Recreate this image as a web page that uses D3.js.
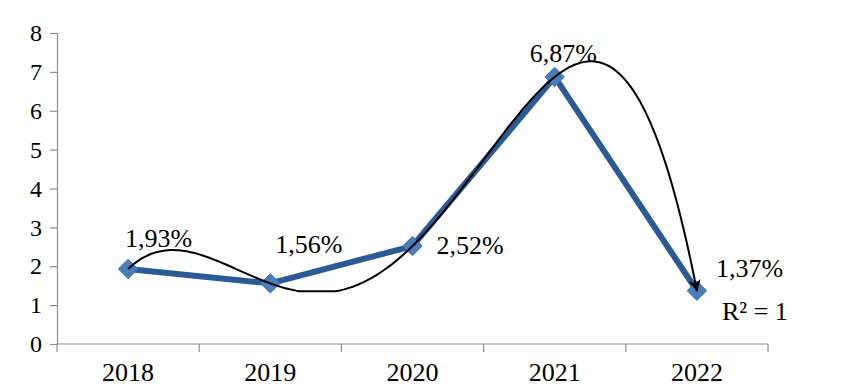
<!DOCTYPE html>
<html>
<head>
<meta charset="utf-8">
<script src="https://cdn.jsdelivr.net/npm/d3@7"></script>
<style>
  body { margin: 0; background: #fff; }
</style>
</head>
<body>
<svg width="841" height="392"></svg>
<script>
// data
const years = ["2018", "2019", "2020", "2021", "2022"];
const values = [1.93, 1.56, 2.52, 6.87, 1.37];
const labels = ["1,93%", "1,56%", "2,52%", "6,87%", "1,37%"];
const yTicks = [0, 1, 2, 3, 4, 5, 6, 7, 8];

const serif = "'Liberation Serif'";
const svg = d3.select("svg");
const margin = { left: 57, right: 73, top: 33, bottom: 48 };
const width = 841;
const height = 392;

const x = d3.scaleBand().domain(years).range([margin.left, width - margin.right]);
const y = d3.scaleLinear().domain([0, 8]).range([height - margin.bottom, margin.top]);
const cx = function (d) { return x(d) + x.bandwidth() / 2; };

// y axis
const yAxis = svg.append("g")
  .attr("transform", "translate(" + margin.left + ",0)")
  .call(d3.axisLeft(y).tickValues(yTicks).tickSize(7).tickPadding(8));
yAxis.selectAll("text").style("font-size", "24px").style("font-family", serif).attr("fill", "#000");

// x axis, ticks between categories
const xAxis = svg.append("g")
  .attr("transform", "translate(0," + y(0) + ")")
  .call(d3.axisBottom(x).tickSize(0).tickPadding(19));
xAxis.select(".domain").remove();
xAxis.selectAll("text").style("font-size", "26px").style("font-family", serif).attr("fill", "#000");
svg.append("line")
  .attr("x1", margin.left).attr("x2", width - margin.right)
  .attr("y1", y(0)).attr("y2", y(0));
const bounds = years.map(function (d) { return x(d); }).concat([x(years[4]) + x.bandwidth()]);
svg.append("g").selectAll("line").data(bounds).enter().append("line")
  .attr("x1", function (d) { return d; }).attr("x2", function (d) { return d; })
  .attr("y1", y(0)).attr("y2", y(0) + 8);
svg.selectAll(".domain, .tick line, line").attr("stroke", "#8c8c8c").attr("stroke-width", 1.2);

// polynomial trendline (degree 4 through all points, R² = 1)
function interp(t) {
  let s = 0;
  for (let i = 0; i < values.length; i++) {
    let p = values[i];
    for (let j = 0; j < values.length; j++) {
      if (j !== i) p *= (t - (j + 1)) / ((i + 1) - (j + 1));
    }
    s += p;
  }
  return s;
}
const trend = d3.range(1, 5.0001, 0.02).map(function (t) {
  return [t, Math.max(interp(t), 1.36)];
});
const tx = d3.scaleLinear().domain([1, 5]).range([cx(years[0]), cx(years[4])]);

svg.append("defs").append("marker")
  .attr("id", "arrow")
  .attr("viewBox", "0 0 10 10")
  .attr("refX", 9).attr("refY", 5)
  .attr("markerWidth", 13).attr("markerHeight", 12)
  .attr("markerUnits", "userSpaceOnUse")
  .attr("orient", "auto")
  .append("path")
  .attr("d", "M0,0 L10,5 L0,10 L3,5 Z")
  .attr("fill", "#000");

// data line
svg.append("path")
  .datum(values)
  .attr("fill", "none")
  .attr("stroke", "#2c5a94")
  .attr("stroke-width", 6)
  .attr("stroke-linejoin", "round")
  .attr("d", d3.line().x(function (d, i) { return cx(years[i]); }).y(function (d) { return y(d); }));

// markers
svg.append("g").selectAll("path").data(values).enter().append("path")
  .attr("d", d3.symbol().type(d3.symbolDiamond2).size(240))
  .attr("transform", function (d, i) { return "translate(" + cx(years[i]) + "," + y(d) + ")"; })
  .attr("fill", "#4a7ebb")
  .attr("stroke", "#3d6dab")
  .attr("stroke-width", 1);

// trendline drawn on top
svg.append("path")
  .datum(trend)
  .attr("fill", "none")
  .attr("stroke", "#000")
  .attr("stroke-width", 2)
  .attr("marker-end", "url(#arrow)")
  .attr("d", d3.line().x(function (d) { return tx(d[0]); }).y(function (d) { return y(d[1]); }));

// data labels
const labelPos = [[-3, -22], [5, -30], [24, 8], [-25, -15], [19, -14]];
svg.append("g").selectAll("text").data(labels).enter().append("text")
  .attr("x", function (d, i) { return cx(years[i]) + labelPos[i][0]; })
  .attr("y", function (d, i) { return y(values[i]) + labelPos[i][1]; })
  .style("font-family", serif)
  .style("font-size", "26px")
  .text(function (d) { return d; });

svg.append("text")
  .attr("x", 722).attr("y", 320)
  .style("font-family", serif)
  .style("font-size", "26px")
  .text("R² = 1");
</script>
</body>
</html>
